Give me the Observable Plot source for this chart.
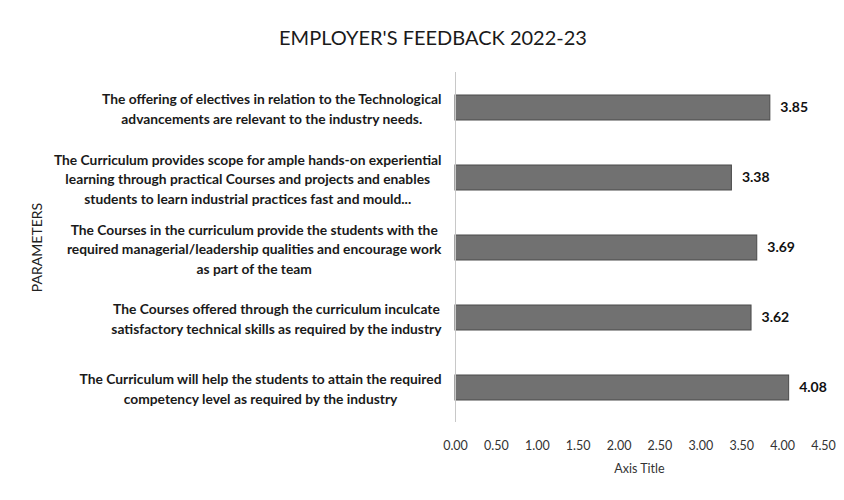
<!DOCTYPE html>
<html>
<head>
<meta charset="utf-8">
<script src="https://cdn.jsdelivr.net/npm/d3@7"></script>
<script src="https://cdn.jsdelivr.net/npm/@observablehq/plot@0.6"></script>
<style>
  html, body { margin: 0; padding: 0; background: #fff; }
  #wrap { width: 844px; height: 500px; position: relative; font-family: Lato, "Open Sans", sans-serif; }
  #title { height: 55px; box-sizing: border-box; padding-top: 27px; line-height: 1; text-align: center; font-size: 20px; color: #1a1a1a; padding-left: 22px; }
</style>
</head>
<body>
<div id="wrap">
  <div id="title">EMPLOYER'S FEEDBACK 2022-23</div>
  <div id="chart"></div>
</div>
<script>
const categories = [
  "The offering of electives in relation to the Technological\nadvancements are relevant to the industry needs.",
  "The Curriculum provides scope for ample hands-on experiential\nlearning through practical Courses and projects and enables\nstudents to learn industrial practices fast and mould...",
  "The Courses in the curriculum provide the students with the\nrequired managerial/leadership qualities and encourage work\nas part of the team",
  "The Courses offered through the curriculum inculcate\nsatisfactory technical skills as required by the industry",
  "The Curriculum will help the students to attain the required\ncompetency level as required by the industry"
];
const values = [3.85, 3.38, 3.69, 3.62, 4.08];
const xTicks = [0, 0.5, 1, 1.5, 2, 2.5, 3, 3.5, 4, 4.5];
const xAxisTitle = "Axis Title";
const yAxisTitle = "PARAMETERS";

const data = categories.map((c, i) => ({category: c, value: values[i]}));

const chart = Plot.plot({
  width: 844,
  height: 445,
  marginLeft: 455,
  marginRight: 21,
  marginTop: 17,
  marginBottom: 78,
  style: {fontFamily: "Lato, 'Open Sans', sans-serif", background: "transparent"},
  x: {domain: [0, 4.5]},
  y: {domain: categories, paddingInner: 0.65, paddingOuter: 0.325},
  marks: [
    Plot.barX(data, {x: "value", y: "category", fill: "#717171", stroke: "#4a4a4a", strokeWidth: 1}),
    Plot.ruleX([0], {stroke: "#c8c8c8"}),
    Plot.text(data, {x: "value", y: "category", text: d => d3.format(".2f")(d.value), textAnchor: "start", dx: 10, fontSize: 14, fontWeight: "bold", fill: "#111"}),
    Plot.axisX({ticks: xTicks, tickFormat: d3.format(".2f"), tickSize: 0, tickPadding: 19, fontSize: 12.5, fill: "#333", label: xAxisTitle, labelAnchor: "center", labelArrow: "none", labelOffset: 50}),
    Plot.axisY({tickSize: 0, tickPadding: 14, fontSize: 13.8, fontWeight: "bold", fill: "#1a1a1a", lineHeight: 1.42, label: null}),
    Plot.axisY({ticks: [], tickSize: 0, label: yAxisTitle, labelAnchor: "center", labelArrow: "none", labelOffset: 423, fontSize: 14, fill: "#222"})
  ]
});
document.getElementById("chart").appendChild(chart);

// center-align the lines of each multi-line category label, keeping the block's right edge
chart.querySelectorAll('g[aria-label="y-axis tick label"] text').forEach(t => {
  const spans = t.querySelectorAll("tspan");
  if (!spans.length) return;
  let maxW = 0;
  spans.forEach(s => { maxW = Math.max(maxW, s.getComputedTextLength()); });
  t.setAttribute("text-anchor", "middle");
  spans.forEach(s => s.setAttribute("x", -maxW / 2));
});
</script>
</body>
</html>
